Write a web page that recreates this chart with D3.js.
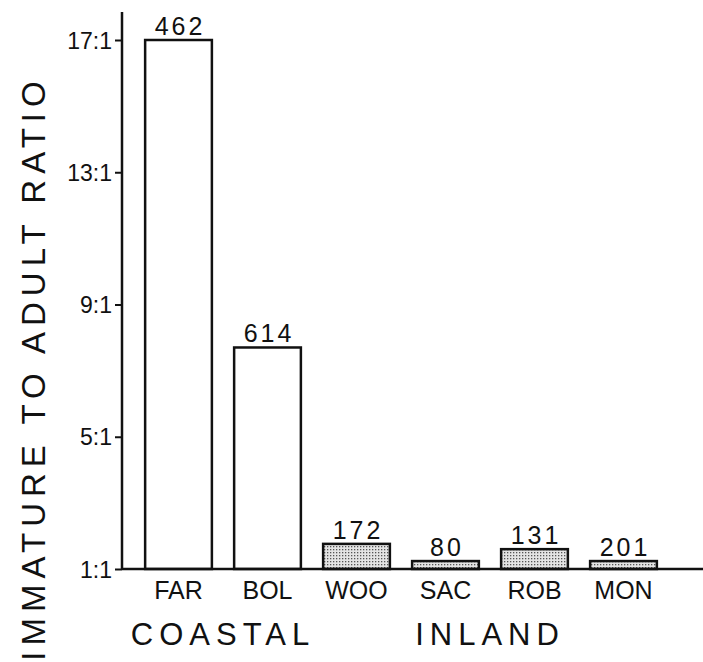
<!DOCTYPE html>
<html>
<head>
<meta charset="utf-8">
<script src="https://cdn.jsdelivr.net/npm/d3@7"></script>
<style>
  body { margin: 0; background: #fff; }
  text { font-family: "Liberation Sans", Arial, sans-serif; fill: #111; }
</style>
</head>
<body>
<div id="chart"></div>
<script>
// data
const sites = ['FAR', 'BOL', 'WOO', 'SAC', 'ROB', 'MON'];
const habitat = ['COASTAL', 'COASTAL', 'INLAND', 'INLAND', 'INLAND', 'INLAND'];
const ratios = [17, 7.7, 1.76, 1.24, 1.6, 1.24];
const sampleSizes = [462, 614, 172, 80, 131, 201];
const groups = ['COASTAL', 'INLAND'];
const yTicks = [1, 5, 9, 13, 17];
const yTickLabels = ['1:1', '5:1', '9:1', '13:1', '17:1'];

const svgWidth = 703;
const svgHeight = 662;

const axisX = 122;
const baseY = 569;
const topY = 40;

const svg = d3.select('#chart')
    .append('svg')
    .attr('width', svgWidth)
    .attr('height', svgHeight);

// stipple pattern for the inland bars
const pattern = svg.append('defs').append('pattern')
    .attr('id', 'dots')
    .attr('width', 3)
    .attr('height', 3)
    .attr('patternUnits', 'userSpaceOnUse');
pattern.append('rect').attr('width', 3).attr('height', 3).attr('fill', '#e4e4e4');
pattern.append('rect').attr('x', 0).attr('y', 0).attr('width', 1.3).attr('height', 1.3).attr('fill', '#555');

const x = d3.scaleBand()
    .domain(sites)
    .range([axisX, 680])
    .paddingInner(0.25)
    .paddingOuter(0.26);

const y = d3.scaleLinear()
    .domain([1, 17])
    .range([baseY, topY]);

// y axis
const leftAxis = d3.axisLeft(y)
    .tickValues(yTicks)
    .tickFormat((d, i) => yTickLabels[i])
    .tickSize(7)
    .tickPadding(3);

const yAxis = svg.append('g')
    .attr('transform', `translate(${axisX},0)`)
    .call(leftAxis);
yAxis.select('.domain').remove();
yAxis.selectAll('line').attr('stroke', '#111').attr('stroke-width', 2);
yAxis.selectAll('text')
    .style('font-size', '23px')
    .style('font-family', '"Liberation Sans", Arial, sans-serif')
    .attr('dy', '0.35em');

svg.append('line')
    .attr('x1', axisX).attr('x2', axisX)
    .attr('y1', 12).attr('y2', baseY)
    .attr('stroke', '#111')
    .attr('stroke-width', 2.5);

// bars
svg.selectAll('.bar')
    .data(sites)
    .enter()
    .append('rect')
    .classed('bar', true)
    .attr('x', d => x(d))
    .attr('width', x.bandwidth())
    .attr('y', (d, i) => y(ratios[i]))
    .attr('height', (d, i) => baseY - y(ratios[i]))
    .attr('fill', (d, i) => habitat[i] === 'INLAND' ? 'url(#dots)' : '#fff')
    .attr('stroke', '#111')
    .attr('stroke-width', 2.5);

// baseline
svg.append('line')
    .attr('x1', axisX).attr('x2', svgWidth)
    .attr('y1', baseY).attr('y2', baseY)
    .attr('stroke', '#111')
    .attr('stroke-width', 2.5);

// sample size labels
svg.selectAll('.count')
    .data(sites)
    .enter()
    .append('text')
    .classed('count', true)
    .attr('x', d => x(d) + x.bandwidth() / 2 + 1.5)
    .attr('y', (d, i) => y(ratios[i]) - 5)
    .attr('text-anchor', 'middle')
    .style('font-size', '25px')
    .style('letter-spacing', '3px')
    .text((d, i) => sampleSizes[i]);

// site labels
svg.selectAll('.site')
    .data(sites)
    .enter()
    .append('text')
    .classed('site', true)
    .attr('x', d => x(d) + x.bandwidth() / 2)
    .attr('y', 599)
    .attr('text-anchor', 'middle')
    .style('font-size', '25px')
    .text(d => d);

// group labels centred under their bars
groups.forEach(g => {
    const centres = sites.filter((s, i) => habitat[i] === g).map(s => x(s) + x.bandwidth() / 2);
    svg.append('text')
        .attr('x', d3.mean(centres))
        .attr('y', 645)
        .attr('text-anchor', 'middle')
        .style('font-size', '31px')
        .style('letter-spacing', '6px')
        .text(g);
});

// y axis title (kept just inside the bottom edge)
svg.append('text')
    .attr('transform', 'translate(45, 368) rotate(-90)')
    .attr('text-anchor', 'middle')
    .style('font-size', '33px')
    .style('letter-spacing', '6px')
    .text('IMMATURE TO ADULT RATIO');
</script>
</body>
</html>
